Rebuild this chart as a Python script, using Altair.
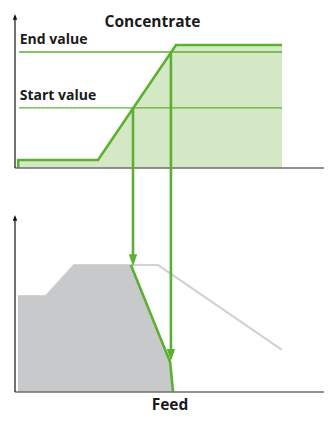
import altair as alt
import pandas as pd

GREEN = "#5cb031"
LIGHT_GREEN = "#d5e8c5"
GREY_AREA = "#c8c9cb"
GREY_LINE = "#d2d2d2"
AXIS_GREY = "#6d6e71"
FONT = "Open Sans"

# ---- Concentrate panel (top), concentration units ----
conc_x = [1.2, 1.2, 31.1, 60.3, 100]
conc_y = [0, 6.5, 6.5, 100, 100]
start_value = 48.8
end_value = 94.3
value_labels = ["End value", "Start value"]
conc_axis_top = 125.2

# ---- Feed panel (bottom), feed units ----
feed_x = [1.1, 11.6, 22.1, 43.1, 58.1, 59.2]
feed_y = [75.6, 75.6, 100, 100, 23.6, 0]
base_x = [1.1, 11.6, 22.1, 53.6, 100]
base_y = [75.6, 75.6, 100, 100, 33.1]
green_feed_x = [43.4, 58.1, 59.2]
green_feed_y = [100, 23.6, 0]
feed_axis_top = 139.4

# ---- arrows linking the panels ----
arrow_x = [44.2, 58.4]
arrow_tip = [99.0, 24.4]

# vertical placement of the top panel inside the shared diagram scale
TOP_BASE = 176.4
TOP_SCALE = 0.9685


def top(v):
    return TOP_BASE + v * TOP_SCALE


X_END = 115.7
xs = alt.Scale(domain=[-2.62, 115.73], nice=False, zero=False)
# plot area covers 408 px at 1.27 px per unit, 0 sitting 384 px below the top
ys = alt.Scale(domain=[-18.9, 302.36], nice=False, zero=False)


def X(f="x"):
    return alt.X(f"{f}:Q", scale=xs, axis=None)


def Y(f="y"):
    return alt.Y(f"{f}:Q", scale=ys, axis=None)


# data frames
conc_line = pd.DataFrame({"x": conc_x, "y": [top(v) for v in conc_y], "i": range(len(conc_x))})
conc_fill = pd.DataFrame({"x": conc_x[1:], "y": [top(v) for v in conc_y[1:]], "b": TOP_BASE})
value_lines = pd.DataFrame({
    "x": [1.5, 1.5], "x2": [100, 100],
    "y": [top(end_value), top(start_value)],
    "label": value_labels,
    "lx": [1.76, 1.76],
})
feed_area = pd.DataFrame({"x": feed_x, "y": feed_y, "b": 0})
base_line = pd.DataFrame({"x": base_x, "y": base_y, "i": range(len(base_x))})
green_line = pd.DataFrame({"x": green_feed_x, "y": green_feed_y, "i": range(len(green_feed_x))})
shafts = pd.DataFrame({
    "x": arrow_x,
    "y": [top(start_value), top(end_value)],
    "y2": [t + 4.7 for t in arrow_tip],
})
heads = pd.DataFrame({"x": arrow_x, "y": arrow_tip})
y_axes = pd.DataFrame({"x": [0, 0], "y": [TOP_BASE, 0], "y2": [top(conc_axis_top) - 2, feed_axis_top - 2]})
y_heads = pd.DataFrame({"x": [0, 0], "y": [top(conc_axis_top), feed_axis_top]})
x_axes = pd.DataFrame({"x": [0, 0], "x2": [X_END, X_END], "y": [TOP_BASE, 0]})

fill_layer = alt.Chart(conc_fill).mark_area(color=LIGHT_GREEN, opacity=1).encode(
    x=X(), y=Y(), y2="b:Q")
value_rules = alt.Chart(value_lines).mark_rule(color=GREEN, strokeWidth=1.3).encode(
    x=X(), x2="x2:Q", y=Y())
value_text = alt.Chart(value_lines).mark_text(
    align="left", baseline="alphabetic", dy=-7.5, font=FONT, fontWeight="bold",
    fontSize=14, color="#1a1a1a").encode(x=X("lx"), y=Y(), text="label:N")
conc_layer = alt.Chart(conc_line).mark_line(color=GREEN, strokeWidth=2.6).encode(
    x=X(), y=Y(), order="i:Q")

base_layer = alt.Chart(base_line).mark_line(color=GREY_LINE, strokeWidth=2.2).encode(
    x=X(), y=Y(), order="i:Q")
area_layer = alt.Chart(feed_area).mark_area(color=GREY_AREA, opacity=1).encode(
    x=X(), y=Y(), y2="b:Q")
green_layer = alt.Chart(green_line).mark_line(color=GREEN, strokeWidth=2.6).encode(
    x=X(), y=Y(), order="i:Q")

shaft_layer = alt.Chart(shafts).mark_rule(color=GREEN, strokeWidth=2.6).encode(
    x=X(), y=Y(), y2="y2:Q")
head_layer = alt.Chart(heads).mark_point(
    shape="M-0.7,-2L0.7,-2L0,0Z", size=144, filled=True, color=GREEN,
    opacity=1, strokeWidth=0).encode(x=X(), y=Y())

yaxis_layer = alt.Chart(y_axes).mark_rule(color="#111111", strokeWidth=1.2).encode(
    x=X(), y=Y(), y2="y2:Q")
yhead_layer = alt.Chart(y_heads).mark_point(
    shape="M0,0L-0.75,1.9L0.75,1.9Z", size=36, filled=True, color="#111111",
    opacity=1, strokeWidth=0).encode(x=X(), y=Y())
xaxis_layer = alt.Chart(x_axes).mark_rule(color=AXIS_GREY, strokeWidth=1.4).encode(
    x=X(), x2="x2:Q", y=Y())

titles = pd.DataFrame({"t": ["Concentrate"]})
title_top = alt.Chart(titles).mark_text(
    align="center", baseline="alphabetic", font=FONT, fontWeight="bold",
    fontSize=15.5, color="#1a1a1a").encode(
    x=alt.value(144.5), y=alt.value(19), text="t:N")
title_bot = alt.Chart(pd.DataFrame({"t": ["Feed"]})).mark_text(
    align="center", baseline="alphabetic", font=FONT, fontWeight="bold",
    fontSize=15.5, color="#1a1a1a").encode(
    x=alt.value(162), y=alt.value(402), text="t:N")

chart = alt.layer(
    fill_layer, value_rules, value_text, conc_layer,
    base_layer, area_layer, green_layer,
    xaxis_layer, yaxis_layer, yhead_layer,
    shaft_layer, head_layer,
    title_top, title_bot,
).properties(
    width=316, height=408, padding=0,
    autosize=alt.AutoSizeParams(type="none"),
).configure_view(stroke=None)

chart.save("out.html", embed_options={"renderer": "svg", "actions": False})
